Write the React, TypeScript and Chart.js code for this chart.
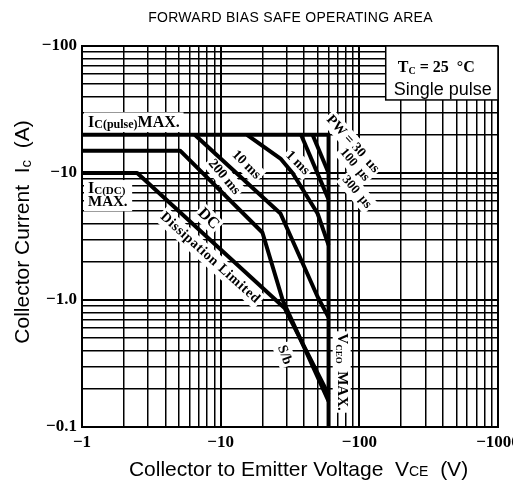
import React, { useEffect, useRef } from "react";
import { Chart, registerables } from "chart.js";

Chart.register(...registerables);

// ---- axis ticks (magnitudes; PNP device, labels carry a minus sign) ----
const X_TICKS = [1, 2, 3, 4, 5, 6, 7, 8, 9, 10, 20, 30, 40, 50, 60, 70, 80, 90, 100, 200, 300, 400, 500, 600, 700, 800, 900, 1000];
const Y_TICKS = [0.1, 0.2, 0.3, 0.4, 0.5, 0.6, 0.7, 0.8, 0.9, 1, 2, 3, 4, 5, 6, 7, 8, 9, 10, 20, 30, 40, 50, 60, 70, 80, 90, 100];
const X_LABELED = [1, 10, 100, 1000];
const X_TICK_LABELS = ["−1", "−10", "−100", "−1000"];
const Y_LABELED = [0.1, 1, 10, 100];
const Y_TICK_LABELS = ["−0.1", "−1.0", "−10", "−100"];

// ---- SOA boundaries: |VCE| (V) and |IC| (A) ----
const PULSE_MAX_V = [1, 60];
const PULSE_MAX_I = [20, 20];
const US100_V = [46, 60];
const US100_I = [20, 10];
const US300_V = [38, 60];
const US300_I = [20, 6.2];
const MS1_V = [15.5, 27, 33, 50, 60];
const MS1_I = [20, 13, 10, 4.8, 2.7];
const MS10_V = [6.5, 27, 50, 60];
const MS10_I = [20, 4.8, 1.06, 0.73];
const MS200_V = [1, 5.1, 20, 28, 60];
const MS200_I = [15, 15, 3.4, 1.0, 0.16];
const DC_V = [1, 2.5, 29, 60];
const DC_I = [10, 10, 0.86, 0.18];
const VCEO_V = [60, 60];
const VCEO_I = [20, 0.1];

const SERIES = [
  [PULSE_MAX_V, PULSE_MAX_I],
  [US100_V, US100_I],
  [US300_V, US300_I],
  [MS1_V, MS1_I],
  [MS10_V, MS10_I],
  [MS200_V, MS200_I],
  [DC_V, DC_I],
  [VCEO_V, VCEO_I],
];

const SANS = '"Liberation Sans", Arial, sans-serif';
const SERIF = '"Liberation Serif", "Times New Roman", serif';

const near = (a: number, b: number) => Math.abs(a - b) < 1e-9 * Math.max(1, b);
const labelFor = (v: number, keys: number[], labels: string[]) => {
  const k = keys.findIndex((t) => near(v, t));
  return k >= 0 ? labels[k] : "";
};
const isDecade = (v: number) => v != null && near(Math.log10(v), Math.round(Math.log10(v)));

type Part = { t: string; font: string; dy?: number; w?: number };

function drawParts(ctx: CanvasRenderingContext2D, x: number, y: number, angle: number, parts: Part[], align: "left" | "center", baseline: CanvasTextBaseline, spacing = 0, bg = false) {
  ctx.save();
  ctx.translate(x, y);
  ctx.rotate((angle * Math.PI) / 180);
  (ctx as any).letterSpacing = spacing + "px";
  ctx.textBaseline = baseline;
  ctx.textAlign = "left";
  let total = 0;
  parts.forEach((p) => {
    ctx.font = p.font;
    p.w = ctx.measureText(p.t).width;
    total += p.w;
  });
  let cx = align === "center" ? -total / 2 : 0;
  if (bg) {
    ctx.fillStyle = "#fff";
    ctx.fillRect(cx - 2, -9, total + 4, 18);
  }
  ctx.fillStyle = "#000";
  parts.forEach((p) => {
    ctx.font = p.font;
    ctx.fillText(p.t, cx, p.dy || 0);
    cx += p.w || 0;
  });
  (ctx as any).letterSpacing = "0px";
  ctx.restore();
}

const annotations = {
  id: "soaAnnotations",
  beforeDatasetsDraw(chart: any) {
    const ctx = chart.ctx as CanvasRenderingContext2D;
    const X = (v: number) => chart.scales.x.getPixelForValue(v);
    const Y = (v: number) => chart.scales.y.getPixelForValue(v);
    const a = chart.chartArea;
    ctx.save();
    ctx.fillStyle = "#fff";
    // condition box
    const bx = X(155);
    const by = Y(37.6);
    ctx.fillRect(bx, a.top, a.right - bx, by - a.top);
    ctx.strokeStyle = "#000";
    ctx.lineWidth = 1.5;
    ctx.strokeRect(bx, a.top, a.right - bx, by - a.top);
    // label backgrounds
    ctx.fillStyle = "#fff";
    ctx.fillRect(a.left + 2, Y(30), X(5.4) - a.left - 2, Y(21) - Y(30));
    ctx.fillRect(a.left + 2, Y(8.8), X(2.3) - a.left - 2, Y(5.0) - Y(8.8));
    ctx.restore();

    const B14 = `bold 14px ${SERIF}`;
    drawParts(ctx, X(35.9), Y(12.0), 45, [{ t: "1 ms", font: B14 }], "center", "middle", 0, true);
    drawParts(ctx, X(15.3), Y(11.6), 45, [{ t: "10 ms", font: B14 }], "center", "middle", 0, true);
    drawParts(ctx, X(10.6), Y(9.3), 50, [{ t: "200 ms", font: B14 }], "center", "middle", 0, true);
    drawParts(ctx, X(8.15), Y(4.35), 45, [{ t: "DC", font: `bold 16px ${SERIF}` }], "center", "middle", 0, true);
    drawParts(ctx, X(8.4), Y(2.14), 42, [{ t: "Dissipation Limited", font: B14 }], "center", "middle", 0.6, true);
    drawParts(ctx, X(28.9), Y(0.369), 70, [{ t: "S/b", font: B14 }], "center", "middle", 0, true);
    drawParts(ctx, X(89.6), Y(16.9), 48, [{ t: "PW = 30  µs", font: B14 }], "center", "middle", 0, true);
    drawParts(ctx, X(92.6), Y(11.6), 50, [{ t: "100  µs", font: `bold 13px ${SERIF}` }], "center", "middle", 0, true);
    drawParts(ctx, X(95.8), Y(7.08), 50, [{ t: "300  µs", font: `bold 13px ${SERIF}` }], "center", "middle", 0, true);
    drawParts(ctx, X(74.6), Y(0.271), 90, [
      { t: "V", font: `bold 15px ${SERIF}` },
      { t: "CEO", font: `bold 9px ${SERIF}`, dy: 3 },
      { t: "  MAX.", font: `bold 15px ${SERIF}` },
    ], "center", "middle", 0, true);

    // text in boxes
    drawParts(ctx, X(1.105), Y(23.0), 0, [
      { t: "I", font: `bold 16px ${SERIF}` },
      { t: "C(pulse)", font: `bold 12px ${SERIF}`, dy: 1 },
      { t: "MAX.", font: `bold 16px ${SERIF}` },
    ], "left", "alphabetic");
    drawParts(ctx, X(1.105), Y(6.96), 0, [
      { t: "I", font: `bold 16px ${SERIF}` },
      { t: "C(DC)", font: `bold 11px ${SERIF}`, dy: 1 },
    ], "left", "alphabetic");
    drawParts(ctx, X(1.105), Y(5.5), 0, [{ t: "MAX.", font: `bold 15px ${SERIF}` }], "left", "alphabetic");
    drawParts(ctx, X(189.6), Y(62.4), 0, [
      { t: "T", font: `bold 16px ${SERIF}` },
      { t: "C", font: `bold 10px ${SERIF}`, dy: 2 },
      { t: " = 25  °C", font: `bold 16px ${SERIF}` },
    ], "left", "alphabetic");
    drawParts(ctx, X(177), Y(41.1), 0, [{ t: "Single pulse", font: `18px ${SANS}` }], "left", "alphabetic");
  },
  afterDraw(chart: any) {
    const ctx = chart.ctx as CanvasRenderingContext2D;
    drawParts(ctx, 290.5, 22, 0, [{ t: "FORWARD BIAS SAFE OPERATING AREA", font: `14px ${SANS}` }], "center", "alphabetic", 0.3);
    drawParts(ctx, 298.5, 476, 0, [
      { t: "Collector to Emitter Voltage  V", font: `21px ${SANS}` },
      { t: "CE", font: `14px ${SANS}` },
      { t: "  (V)", font: `21px ${SANS}` },
    ], "center", "alphabetic");
    drawParts(ctx, 29, 232, -90, [
      { t: "Collector Current  I", font: `21px ${SANS}` },
      { t: "c", font: `15px ${SANS}`, dy: 2 },
      { t: "  (A)", font: `21px ${SANS}` },
    ], "center", "alphabetic");
  },
};

export default function App() {
  const ref = useRef<HTMLCanvasElement | null>(null);
  useEffect(() => {
    const canvas = ref.current;
    if (!canvas) return;
    const datasets = SERIES.map(([vs, is]) => ({
      data: vs.map((v, k) => ({ x: v, y: is[k] })),
      showLine: true,
      borderColor: "#000",
      backgroundColor: "#000",
      borderWidth: 4,
      pointRadius: 0,
      tension: 0,
      fill: false,
      borderJoinStyle: "round" as const,
    }));
    const gridWidth = (c: any) => (c.tick && isDecade(c.tick.value) ? 2 : 1.5);
    const chart = new Chart(canvas, {
      type: "scatter",
      data: { datasets },
      options: {
        responsive: false,
        devicePixelRatio: 1,
        animation: false,
        layout: { padding: { top: 46, right: 15, left: 0, bottom: 0 }, autoPadding: false },
        plugins: { legend: { display: false }, tooltip: { enabled: false }, title: { display: false } },
        scales: {
          x: {
            type: "logarithmic",
            min: 1,
            max: 1000,
            afterBuildTicks: (s: any) => {
              s.ticks = X_TICKS.map((v) => ({ value: v }));
            },
            afterFit: (s: any) => {
              s.height = 56;
              s.paddingLeft = 0;
              s.paddingRight = 0;
            },
            grid: { color: "#000", lineWidth: gridWidth, drawTicks: false },
            border: { color: "#000", width: 2 },
            ticks: {
              autoSkip: false,
              maxRotation: 0,
              padding: 5,
              color: "#000",
              font: { family: SERIF, size: 17, weight: "bold" },
              callback: (v: any) => labelFor(Number(v), X_LABELED, X_TICK_LABELS),
            },
          },
          y: {
            type: "logarithmic",
            min: 0.1,
            max: 100,
            afterBuildTicks: (s: any) => {
              s.ticks = Y_TICKS.map((v) => ({ value: v }));
            },
            afterFit: (s: any) => {
              s.width = 82;
              s.paddingTop = 0;
              s.paddingBottom = 0;
            },
            grid: { color: "#000", lineWidth: gridWidth, drawTicks: false },
            border: { color: "#000", width: 2 },
            ticks: {
              autoSkip: false,
              padding: 5,
              color: "#000",
              font: { family: SERIF, size: 17, weight: "bold" },
              callback: (v: any) => labelFor(Number(v), Y_LABELED, Y_TICK_LABELS),
            },
          },
        },
      },
      plugins: [annotations],
    } as any);
    return () => chart.destroy();
  }, []);
  return (
    <div style={{ position: "fixed", left: 0, top: 0, width: 513, height: 483, background: "#fff" }}>
      <canvas ref={ref} width={513} height={483} style={{ display: "block" }} />
    </div>
  );
}
